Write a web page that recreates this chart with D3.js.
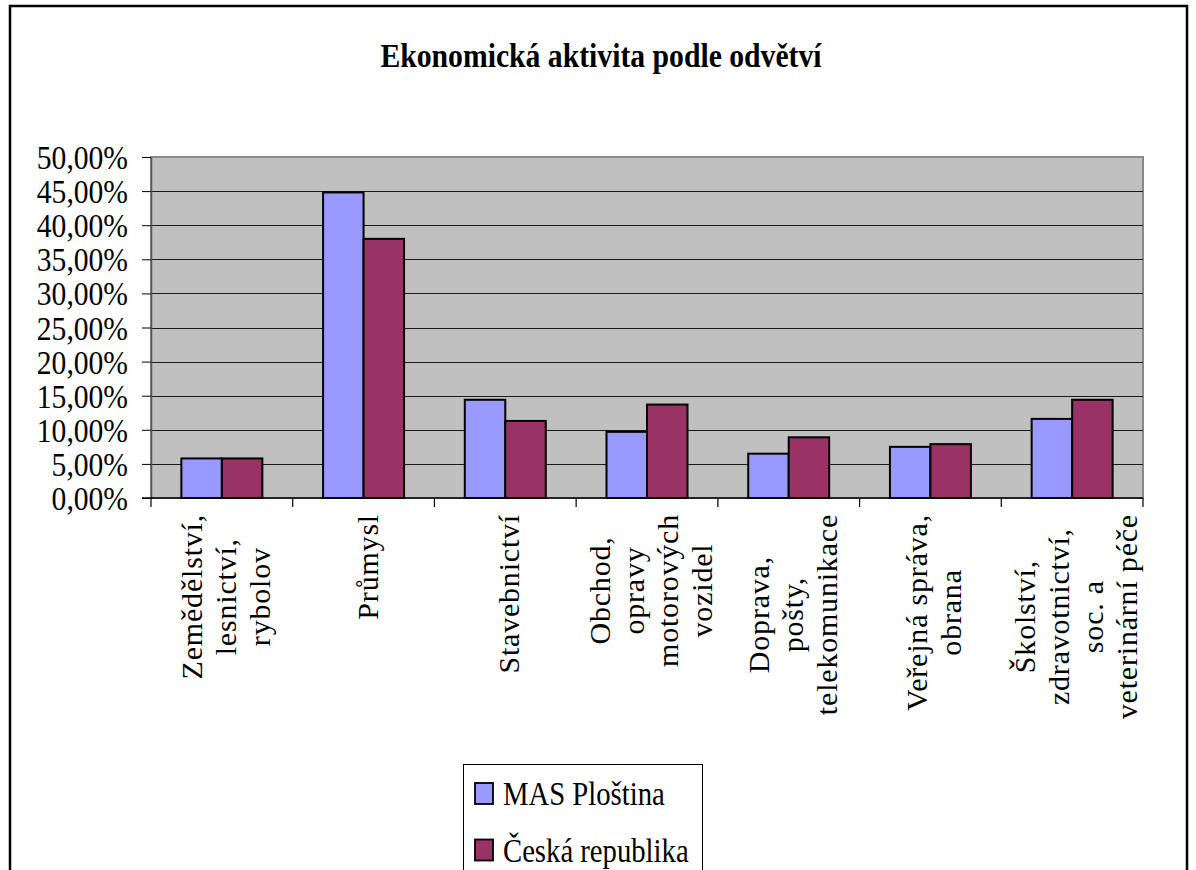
<!DOCTYPE html>
<html>
<head>
<meta charset="utf-8">
<script src="https://cdn.jsdelivr.net/npm/d3@7"></script>
<style>
  body { margin: 0; background: #fff; }
  svg, svg text { font-family: 'Liberation Serif', Tinos, 'Times New Roman', Times, 'DejaVu Serif', 'Noto Serif', serif !important; }
</style>
</head>
<body>
<script>
// data

const categories = [
  ['Zemědělství,', 'lesnictví,', 'rybolov'],
  ['Průmysl'],
  ['Stavebnictví'],
  ['Obchod,', 'opravy', 'motorových', 'vozidel'],
  ['Doprava,', 'pošty,', 'telekomunikace'],
  ['Veřejná správa,', 'obrana'],
  ['Školství,', 'zdravotnictví,', 'soc. a', 'veterinární péče']
]

const series = ['MAS Ploština', 'Česká republika']

const masValues = [0.058, 0.448, 0.144, 0.097, 0.065, 0.075, 0.116]
const czValues = [0.058, 0.380, 0.113, 0.137, 0.089, 0.079, 0.144]

const yTicks = [0, 0.05, 0.10, 0.15, 0.20, 0.25, 0.30, 0.35, 0.40, 0.45, 0.50]

const COLORS = ['#9999ff', '#993366']

const W = 1196, H = 870
const PLOT = { left: 151, right: 1143, top: 157, bottom: 498 }
const SQUEEZE = 0.87

const locale = d3.formatLocale({ decimal: ',', thousands: ' ', grouping: [3], currency: ['', ''] })
const pct = locale.format('.2%')

const svg = d3.select('body').append('svg')
  .attr('width', W)
  .attr('height', H)

// chart border
svg.append('rect')
  .attr('x', 10).attr('y', 6)
  .attr('width', 1177).attr('height', 900)
  .attr('fill', '#fff')
  .attr('stroke', '#000')
  .attr('stroke-width', 2.5)

// title
svg.append('text')
  .attr('transform', 'translate(601,67) scale(0.9,1)')
  .attr('text-anchor', 'middle')
  .attr('font-weight', 'bold')
  .attr('font-size', 33)
  .text('Ekonomická aktivita podle odvětví')

// scales
const x = d3.scaleBand()
  .domain(d3.range(categories.length))
  .range([PLOT.left, PLOT.right])

const xs = d3.scaleBand()
  .domain(series)
  .range([0, x.bandwidth()])
  .paddingOuter(0.75)

const y = d3.scaleLinear()
  .domain([0, 0.5])
  .range([PLOT.bottom, PLOT.top])

// plot background
svg.append('rect')
  .attr('x', PLOT.left).attr('y', PLOT.top)
  .attr('width', PLOT.right - PLOT.left)
  .attr('height', PLOT.bottom - PLOT.top)
  .attr('fill', '#c0c0c0')
  .attr('stroke', '#8a8a8a')
  .attr('stroke-width', 2)

// gridlines
svg.append('g')
  .attr('class', 'grid')
  .selectAll('line')
  .data(yTicks.slice(1, -1))
  .enter().append('line')
    .attr('x1', PLOT.left).attr('x2', PLOT.right)
    .attr('y1', (d) => Math.round(y(d)) + 0.5)
    .attr('y2', (d) => Math.round(y(d)) + 0.5)
    .attr('stroke', '#1a1a1a')
    .attr('stroke-width', 1.2)

// bars
const groups = svg.append('g')
  .attr('class', 'bars')
  .selectAll('g')
  .data(categories.map((c, i) => [masValues[i], czValues[i]]))
  .enter().append('g')
    .attr('transform', (d, i) => 'translate(' + x(i) + ',0)')

groups.selectAll('rect')
  .data((d) => d.map((v, j) => ({ v: v, s: series[j], j: j })))
  .enter().append('rect')
    .attr('x', (d) => xs(d.s))
    .attr('y', (d) => y(d.v))
    .attr('width', xs.bandwidth())
    .attr('height', (d) => y(0) - y(d.v))
    .attr('fill', (d) => COLORS[d.j])
    .attr('stroke', '#000')
    .attr('stroke-width', 2)

// y axis
const yAxis = svg.append('g')
  .attr('class', 'y axis')
  .attr('transform', 'translate(' + PLOT.left + ',0)')
  .call(d3.axisLeft(y).tickValues(yTicks).tickFormat(pct).tickSize(9).tickSizeOuter(0))

yAxis.attr('font-family', null)
yAxis.select('.domain').attr('stroke', '#555').attr('stroke-width', 1.5)
yAxis.selectAll('line').attr('stroke', '#000')
yAxis.selectAll('text')
  .attr('font-size', 34)
  .attr('fill', '#000')
  .attr('x', -23 / SQUEEZE)
  .attr('dy', '0.34em')
  .attr('transform', 'scale(' + SQUEEZE + ',1)')

// x axis line and ticks at category boundaries
const xAxis = svg.append('g').attr('class', 'x axis')

xAxis.append('line')
  .attr('x1', PLOT.left - 9).attr('x2', PLOT.right)
  .attr('y1', PLOT.bottom).attr('y2', PLOT.bottom)
  .attr('stroke', '#000')
  .attr('stroke-width', 1.5)

xAxis.selectAll('.tick')
  .data(d3.range(categories.length + 1))
  .enter().append('line')
    .attr('class', 'tick')
    .attr('x1', (i) => PLOT.left + i * x.step())
    .attr('x2', (i) => PLOT.left + i * x.step())
    .attr('y1', PLOT.bottom).attr('y2', PLOT.bottom + 9)
    .attr('stroke', '#000')
    .attr('stroke-width', 1.2)

// rotated category labels
const LABEL_TOP = 514
const LINE_H = 34

const label = xAxis.selectAll('.label')
  .data(categories)
  .enter().append('g')
    .attr('class', 'label')
    .attr('transform', (d, i) => 'translate(' + (x(i) + x.bandwidth() / 2 + 4) + ',' + LABEL_TOP + ') rotate(-90)')

label.each(function(lines) {
  const g = d3.select(this)
  const texts = g.selectAll('text')
    .data(lines)
    .enter().append('text')
      .attr('font-size', 30)
      .attr('letter-spacing', 0.8)
      .attr('text-anchor', 'middle')
      .attr('y', (d, k) => (k - (lines.length - 1) / 2) * LINE_H + 10)
      .text((d) => d)
  let maxLen = 0
  texts.each(function() { maxLen = Math.max(maxLen, this.getComputedTextLength()) })
  texts.attr('x', -maxLen / 2)
})

// legend
const legend = svg.append('g').attr('class', 'legend')

legend.append('rect')
  .attr('x', 463.5).attr('y', 764.5)
  .attr('width', 239).attr('height', 130)
  .attr('fill', '#fff')
  .attr('stroke', '#000')
  .attr('stroke-width', 1)

const item = legend.selectAll('.item')
  .data(series)
  .enter().append('g')
    .attr('class', 'item')
    .attr('transform', (d, i) => 'translate(475,' + (783 + i * 56.5) + ')')

item.append('rect')
  .attr('width', 18).attr('height', 21)
  .attr('fill', (d, i) => COLORS[i])
  .attr('stroke', '#000')
  .attr('stroke-width', 1.8)

item.append('text')
  .attr('transform', 'translate(28,22) scale(' + SQUEEZE + ',1)')
  .attr('font-size', 33)
  .text((d) => d)
</script>
</body>
</html>
